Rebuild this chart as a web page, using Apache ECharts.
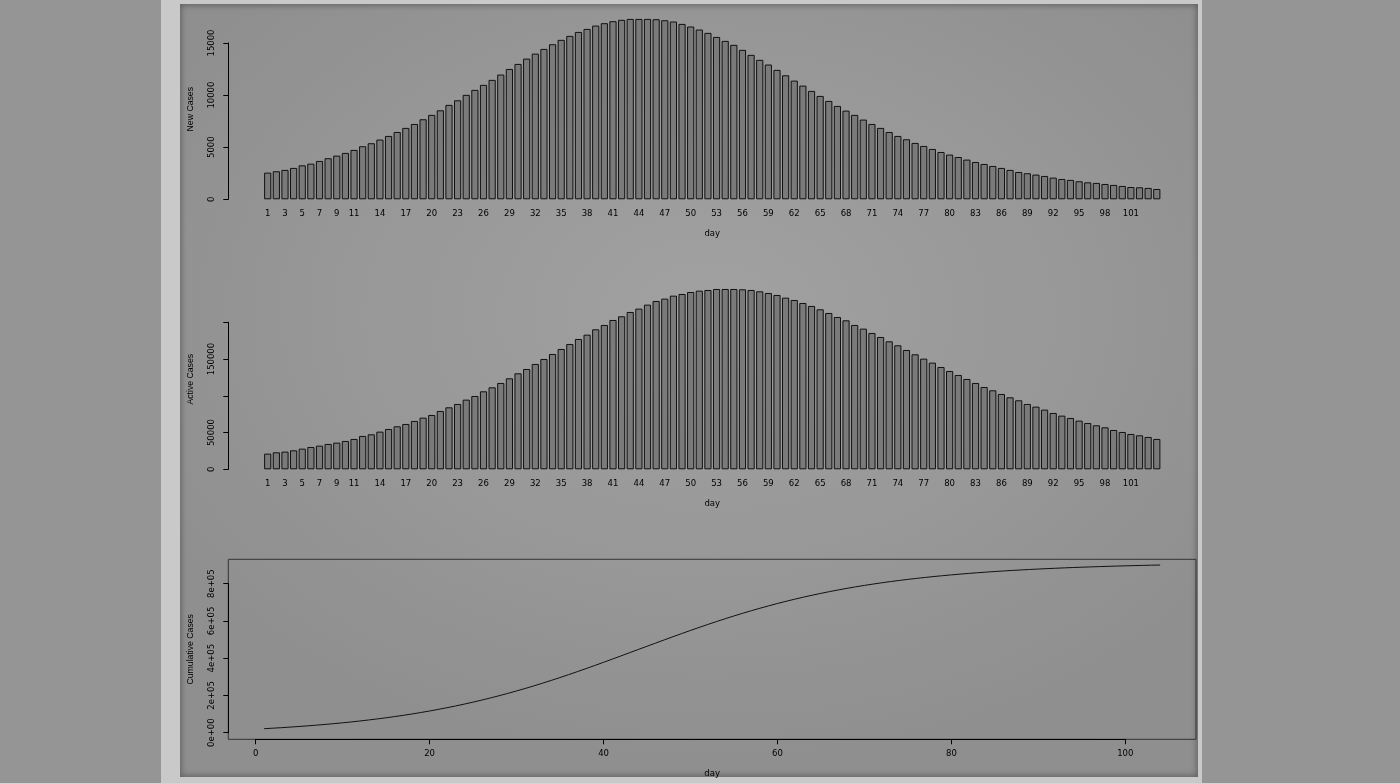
<!DOCTYPE html>
<html><head><meta charset="utf-8">
<script src="https://cdn.jsdelivr.net/npm/echarts@6.0.0/dist/echarts.min.js"></script>
<style>
html,body{margin:0;padding:0;width:1400px;height:783px;overflow:hidden;background:#959595;}
#panel{position:absolute;left:161px;top:0;width:1041px;height:783px;box-sizing:border-box;border-style:solid;border-color:#c9c9c9;border-width:4px 4px 6px 19px;
background:radial-gradient(ellipse 62% 58% at 52% 40%, #a1a1a1 0%, #989898 55%, #8f8f8f 100%);box-shadow: inset 0 0 6px 1px rgba(0,0,0,0.35);}
#chart{position:absolute;left:0;top:0;width:1400px;height:783px;}
</style></head><body><div id="panel"></div><div id="chart"></div>
<script>
const newCases = [2560,2690,2820,3010,3260,3420,3680,3940,4190,4450,
 4740,5090,5380,5730,6080,6460,6850,7230,7680,8100,
 8540,9060,9500,10020,10500,10980,11460,11970,12510,12990,
 13500,13980,14430,14880,15300,15680,16060,16350,16670,16900,
 17090,17220,17310,17310,17310,17280,17180,17060,16830,16580,
 16290,15970,15580,15200,14820,14340,13860,13380,12930,12420,
 11900,11390,10910,10400,9920,9440,8960,8510,8100,7650,
 7230,6850,6460,6080,5760,5410,5120,4830,4540,4290,
 4060,3810,3580,3390,3200,3010,2820,2620,2500,2370,
 2240,2080,1950,1860,1730,1630,1570,1470,1380,1280,
 1180,1150,1090,990];
const activeCases = [21320,23130,24040,25850,28120,30380,32200,34470,36280,38550,
 41270,45350,47620,51250,54870,58500,61680,65760,70290,73920,
 79360,84350,88890,94780,99770,106120,111560,117460,123810,130610,
 136500,143310,150110,156910,163710,170520,177320,183210,190470,196370,
 203170,208160,214050,218590,224030,229020,232190,236270,238540,241260,
 243070,243980,245340,245340,245340,244890,243980,242170,239900,237180,
 233550,230380,226300,222220,217680,212690,207250,202710,196370,191380,
 185480,180040,174140,168700,162350,156460,150560,145120,139220,133780,
 128340,122900,117460,112010,107480,102490,97960,93870,88890,85260,
 81180,76640,73010,69840,66210,63040,59860,57140,53510,50790,
 48070,46260,43990,41270];
const cumulativeCases = [21560,24250,27070,30080,33340,36760,40440,44380,48570,53020,
 57760,62850,68230,73960,80040,86500,93350,100580,108260,116360,
 124900,133960,143460,153480,163980,174960,186420,198390,210900,223890,
 237390,251370,265800,280680,295980,311660,327720,344070,360740,377640,
 394730,411950,429260,446570,463880,481160,498340,515400,532230,548810,
 565100,581070,596650,611850,626670,641000,654860,668240,681170,693590,
 705490,716880,727790,738190,748110,757550,766510,775020,783120,790770,
 798000,804850,811310,817390,823150,828560,833680,838510,843050,847340,
 851400,855210,858790,862180,865380,868390,871210,873830,876330,878700,
 880940,883020,884970,886830,888560,890190,891760,893230,894610,895890,
 897070,898220,899310,900300];
const days = newCases.map((v, i) => i + 1);
const barTickLabels = [1,3,5,7,9,11,14,17,20,23,26,29,32,35,38,41,44,47,50,53,56,59,62,65,68,71,74,77,80,83,86,89,92,95,98,101];
const activeTickLabels = {0:'0', 50000:'50000', 150000:'150000'};
const cumTickLabels = {0:'0e+00', 200000:'2e+05', 400000:'4e+05', 600000:'6e+05', 800000:'8e+05'};

const tickFont = {fontFamily:'DejaVu Sans', fontSize:8.5, color:'#000'};
const nameFont = {fontFamily:'Liberation Sans', fontSize:8.7, color:'#000'};
const dayFont = {fontFamily:'DejaVu Sans', fontSize:8.5, color:'#000'};
const blackLine = {color:'#000', width:1};
const hidden = {axisLine:{show:false, onZero:false}, axisTick:{show:false}, axisLabel:{show:false}, splitLine:{show:false}};

function barXAxis(gi) {
  return {gridIndex:gi, type:'category', data:days.map(String), boundaryGap:true,
    axisLine:{show:false, onZero:false}, axisTick:{show:false}, splitLine:{show:false},
    axisLabel:Object.assign({interval:(idx, val) => barTickLabels.includes(Number(val)), margin:2.5}, tickFont),
    name:'day', nameLocation:'middle', nameGap:23.25, nameTextStyle:dayFont};
}
function visY(gi, mn, mx, itv, fmt, off) {
  return {gridIndex:gi, type:'value', min:mn, max:mx, interval:itv, offset:off||0,
    axisLine:{show:true, onZero:false, lineStyle:blackLine},
    axisTick:{show:true, length:5, lineStyle:blackLine},
    axisLabel:Object.assign({rotate:90, margin:12.35, formatter:fmt}, tickFont),
    splitLine:{show:false}};
}
const barStyle = {color:'#7a7a7a', borderColor:'#111', borderWidth:1};

const option = {
  animation:false,
  grid:[
    {left:263.4, width:897.7, top:11.9, height:194.6},
    {left:228.3, width:10, top:43, height:156.3},
    {left:263.4, width:897.7, top:282, height:194.5},
    {left:228.3, width:10, top:322.3, height:147},
    {left:228.3, width:967.7, top:559.3, height:180, show:true, borderColor:'#333', borderWidth:1, backgroundColor:'transparent'},
    {left:255.7, width:869.6, top:583.7, height:149}
  ],
  xAxis:[
    barXAxis(0),
    {gridIndex:1, type:'value', show:false},
    barXAxis(2),
    {gridIndex:3, type:'value', show:false},
    Object.assign({gridIndex:4, type:'value', min:-3.12, max:108.12, name:'day', nameLocation:'middle', nameGap:29.75, nameTextStyle:dayFont}, hidden),
    {gridIndex:5, type:'value', min:0, max:100, interval:20, offset:6.6,
      axisLine:{show:true, onZero:false, lineStyle:blackLine},
      axisTick:{show:true, length:5, lineStyle:blackLine},
      axisLabel:Object.assign({margin:9.75}, tickFont), splitLine:{show:false}}
  ],
  yAxis:[
    Object.assign({gridIndex:0, type:'value', min:-692, max:17982, offset:35.1, name:'New Cases', nameLocation:'middle', nameGap:33.25, nameTextStyle:nameFont}, hidden),
    visY(1, 0, 15000, 5000, v => String(v)),
    Object.assign({gridIndex:2, type:'value', min:-9796, max:254830, offset:35.1, name:'Active Cases', nameLocation:'middle', nameGap:33.25, nameTextStyle:nameFont}, hidden),
    visY(3, 0, 200000, 50000, v => activeTickLabels[v] || ''),
    Object.assign({gridIndex:4, type:'value', min:-35436, max:930990, name:'Cumulative Cases', nameLocation:'middle', nameGap:33.25, nameTextStyle:nameFont}, hidden),
    visY(5, 0, 800000, 200000, v => cumTickLabels[v] || '', 27.4)
  ],
  series:[
    {type:'bar', xAxisIndex:0, yAxisIndex:0, data:newCases, barCategoryGap:'16.7%', itemStyle:barStyle, silent:true},
    {type:'bar', xAxisIndex:2, yAxisIndex:2, data:activeCases, barCategoryGap:'16.7%', itemStyle:barStyle, silent:true},
    {type:'line', xAxisIndex:4, yAxisIndex:4, data:days.map((d, i) => [d, cumulativeCases[i]]), symbol:'none', lineStyle:{color:'#111', width:1}, silent:true}
  ]
};
const chart = echarts.init(document.getElementById('chart'), null, {renderer:'canvas'});
chart.setOption(option);
</script></body></html>
